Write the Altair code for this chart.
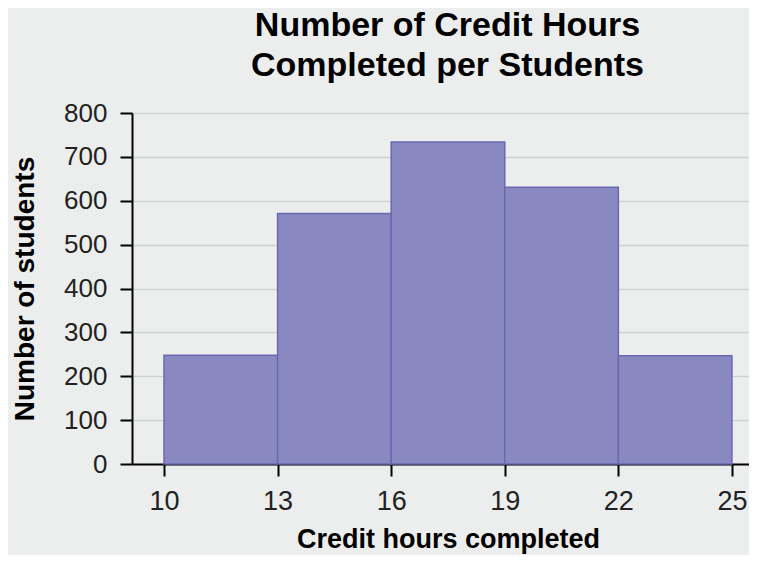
import altair as alt
import pandas as pd

# Data
bin_start = [10, 13, 16, 19, 22]
bin_end = [13, 16, 19, 22, 25]
counts = [248, 571, 734, 631, 247]
x_ticks = [10, 13, 16, 19, 22, 25]
y_ticks = [0, 100, 200, 300, 400, 500, 600, 700, 800]

df = pd.DataFrame({"start": bin_start, "end": bin_end, "count": counts})

FONT = "Liberation Sans"
BG = "#eceeed"

x_scale = alt.Scale(domain=[9.155, 25.45], nice=False, zero=False)
y_scale = alt.Scale(domain=[0, 800], nice=False)

bars = alt.Chart(df).mark_rect(
    fill="#8a88c1", stroke="#6b68b2", strokeWidth=1.5
).encode(
    x=alt.X("start:Q", scale=x_scale,
            axis=alt.Axis(values=x_ticks, title="Credit hours completed",
                          grid=False, domainColor="black", domainWidth=2,
                          tickColor="black", tickWidth=2, tickSize=12,
                          labelFont=FONT, labelFontSize=27, labelColor="#222222",
                          labelPadding=12, labelFlush=False,
                          titleFont=FONT, titleFontSize=27, titleFontWeight="bold",
                          titleColor="black", titleX=316, titleY=62,
                          titleAlign="center", titleBaseline="top")),
    x2="end:Q",
    y=alt.Y("count:Q", scale=y_scale,
            axis=alt.Axis(values=y_ticks, title="Number of students",
                          grid=True, gridColor="#cdd1d0", gridWidth=1.5,
                          domainColor="black", domainWidth=2,
                          tickColor="black", tickWidth=2, tickSize=12,
                          labelFont=FONT, labelFontSize=26, labelColor="#222222",
                          labelPadding=13, labelFlush=False,
                          titleFont=FONT, titleFontSize=28, titleFontWeight="bold",
                          titleColor="black", titleX=-121, titleBaseline="top")),
    y2=alt.datum(0),
)

chart = bars.properties(
    width=617,
    height=351,
    background=BG,
    padding={"left": 124, "top": 105, "right": 0, "bottom": 91},
    autosize=alt.AutoSizeParams(type="none"),
    title=alt.TitleParams(
        text=["Number of Credit Hours", "Completed per Students"],
        font=FONT, fontSize=34, fontWeight="bold", color="black",
        anchor="middle", frame="group", offset=31, lineHeight=40,
        baseline="bottom", dx=7, dy=48,
    ),
).configure_view(stroke=None)

chart.save("out.html", embed_options={"renderer": "svg", "actions": False})
